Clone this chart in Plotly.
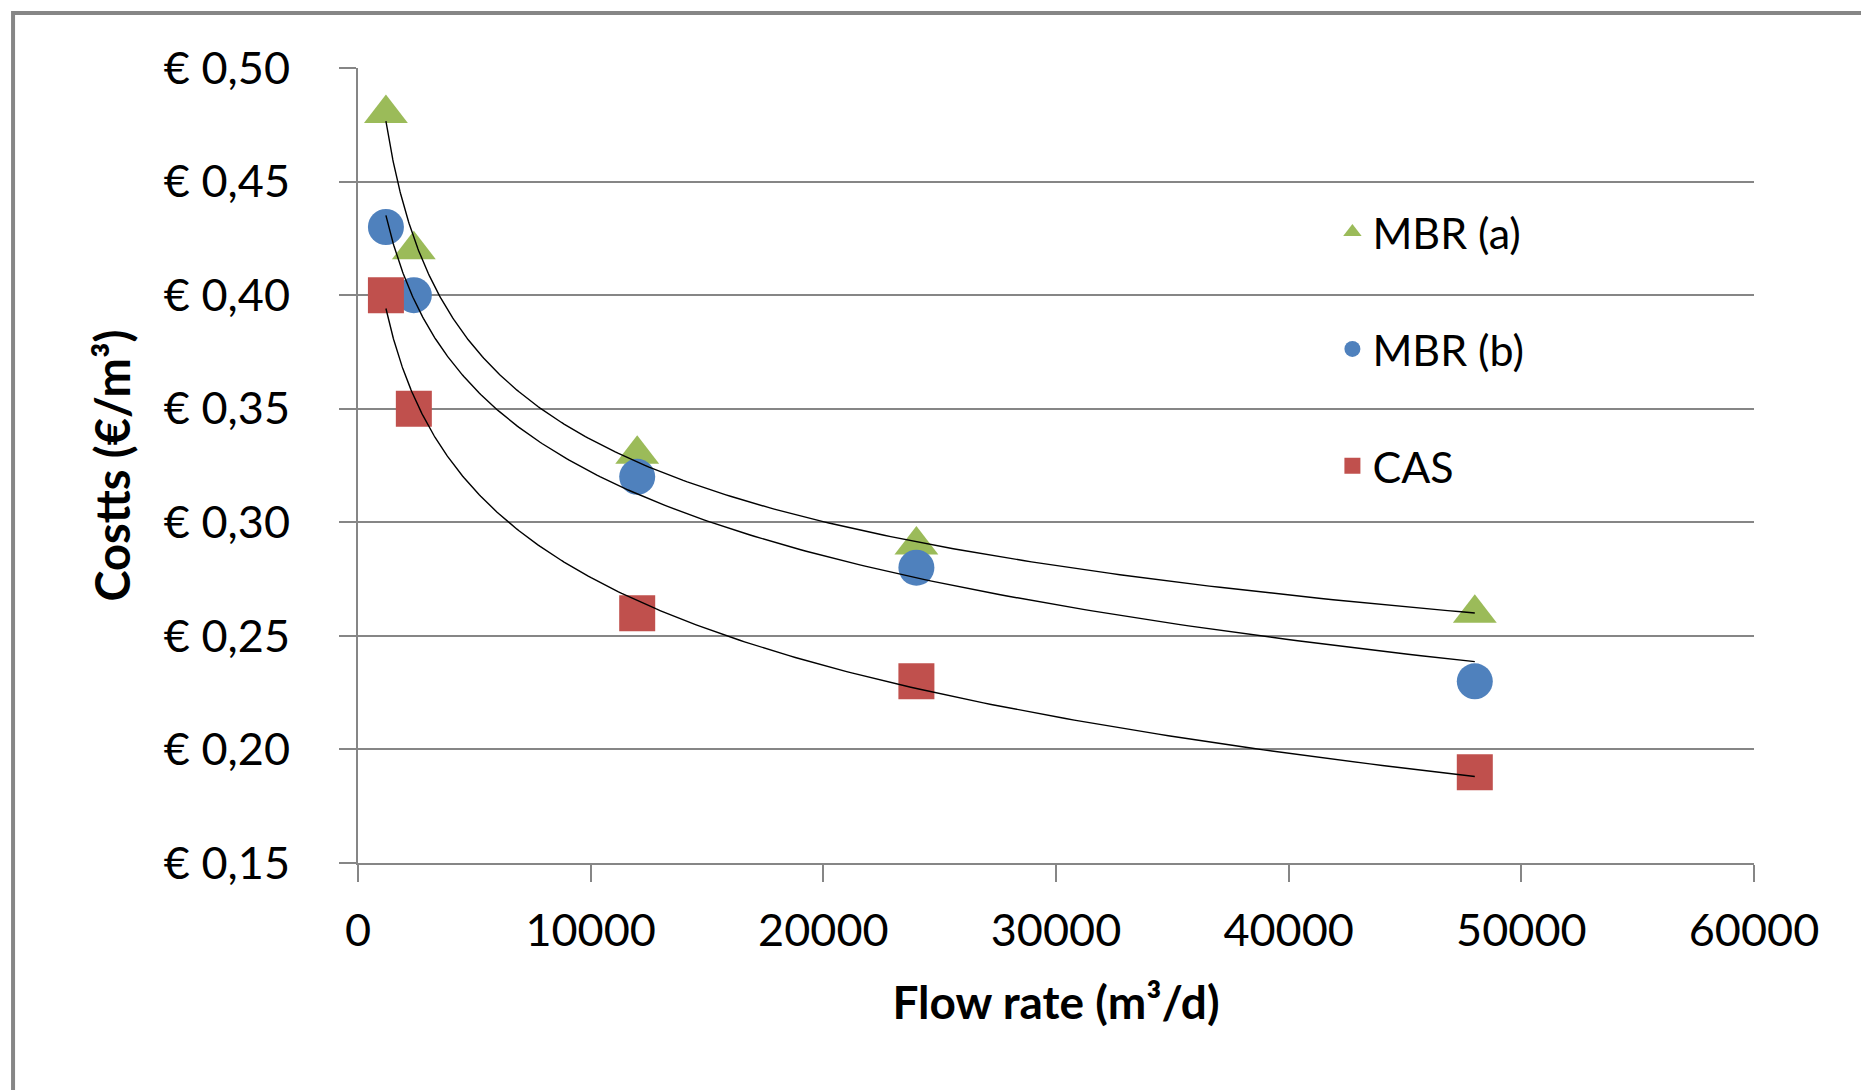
import numpy as np
import plotly.graph_objects as go

# ---- data ----
flow_rate = [1200, 2400, 12000, 24000, 48000]
mbr_a = [0.48, 0.42, 0.33, 0.29, 0.26]
mbr_b = [0.43, 0.40, 0.32, 0.28, 0.23]
cas = [0.40, 0.35, 0.26, 0.23, 0.19]

series_names = ["MBR (a)", "MBR (b)", "CAS"]
series_values = [mbr_a, mbr_b, cas]
series_colors = ["#9BBB59", "#4F81BD", "#C0504D"]
series_symbols = ["triangle-up", "circle", "square"]
series_sizes = [38, 36, 36]
trend_types = ["power", "log", "log"]   # Excel trendline types seen in the chart

x_title = "Flow rate (m³/d)"
y_title = "Costts (€/m³)"

GRID = "#868686"
FONT = "Lato, 'Liberation Sans', Arial, sans-serif"

fig = go.Figure()

# markers
for name, vals, col, sym, sz in zip(series_names, series_values, series_colors,
                                    series_symbols, series_sizes):
    fig.add_trace(go.Scatter(
        x=flow_rate, y=vals, mode="markers", name=name,
        legendgroup=name,
        marker=dict(color=col, symbol=sym, size=sz, line=dict(width=0)),
    ))

# trendlines (least-squares fits), drawn on top of the markers
xs = np.array(flow_rate, dtype=float)
x_fit = np.geomspace(xs.min(), xs.max(), 300)
for name, vals, kind in zip(series_names, series_values, trend_types):
    ys = np.array(vals, dtype=float)
    if kind == "power":
        a, b = np.polyfit(np.log(xs), np.log(ys), 1)
        y_fit = np.exp(b) * x_fit ** a
    else:
        a, b = np.polyfit(np.log(xs), ys, 1)
        y_fit = a * np.log(x_fit) + b
    fig.add_trace(go.Scatter(
        x=x_fit, y=y_fit, mode="lines",
        line=dict(color="black", width=1.4),
        showlegend=False, hoverinfo="skip", legendgroup=name,
    ))

fig.update_layout(
    width=1861, height=1090,
    margin=dict(l=358, r=107, t=68, b=227),
    paper_bgcolor="white", plot_bgcolor="white",
    separators=",.",
    font=dict(family=FONT, size=45, color="black"),
    showlegend=True,
    legend=dict(
        x=0.698, xanchor="left", y=0.837, yanchor="top",
        font=dict(family=FONT, size=43, color="black"),
        bgcolor="rgba(0,0,0,0)", borderwidth=0,
        tracegroupgap=58, traceorder="grouped",
    ),
    xaxis=dict(
        range=[0, 60000], dtick=10000, tick0=0, tickformat="d",
        showgrid=False, zeroline=False,
        showline=True, linecolor=GRID, linewidth=2,
        ticks="outside", ticklen=17, tickwidth=2, tickcolor=GRID,
        ticklabelstandoff=10,
        tickfont=dict(family=FONT, size=45, color="black"),
        title=dict(text=x_title, standoff=32,
                   font=dict(family=FONT, size=46, color="black", weight="bold")),
    ),
    yaxis=dict(
        range=[0.15, 0.50], dtick=0.05, tick0=0.15, tickformat=".2f",
        tickprefix="€ ",
        showgrid=True, gridcolor=GRID, gridwidth=2, zeroline=False,
        showline=True, linecolor=GRID, linewidth=2,
        ticks="outside", ticklen=17, tickwidth=2, tickcolor=GRID,
        ticklabelstandoff=40,
        tickfont=dict(family=FONT, size=45, color="black"),
        title=dict(text=y_title, standoff=18,
                   font=dict(family=FONT, size=47, color="black", weight="bold")),
    ),
    shapes=[dict(
        type="rect", xref="paper", yref="paper",
        x0=-0.2471, x1=1.3, y0=-0.5, y1=1.0692,
        line=dict(color=GRID, width=4), fillcolor="rgba(0,0,0,0)", layer="below",
    )],
)

fig.write_html("out.html")
